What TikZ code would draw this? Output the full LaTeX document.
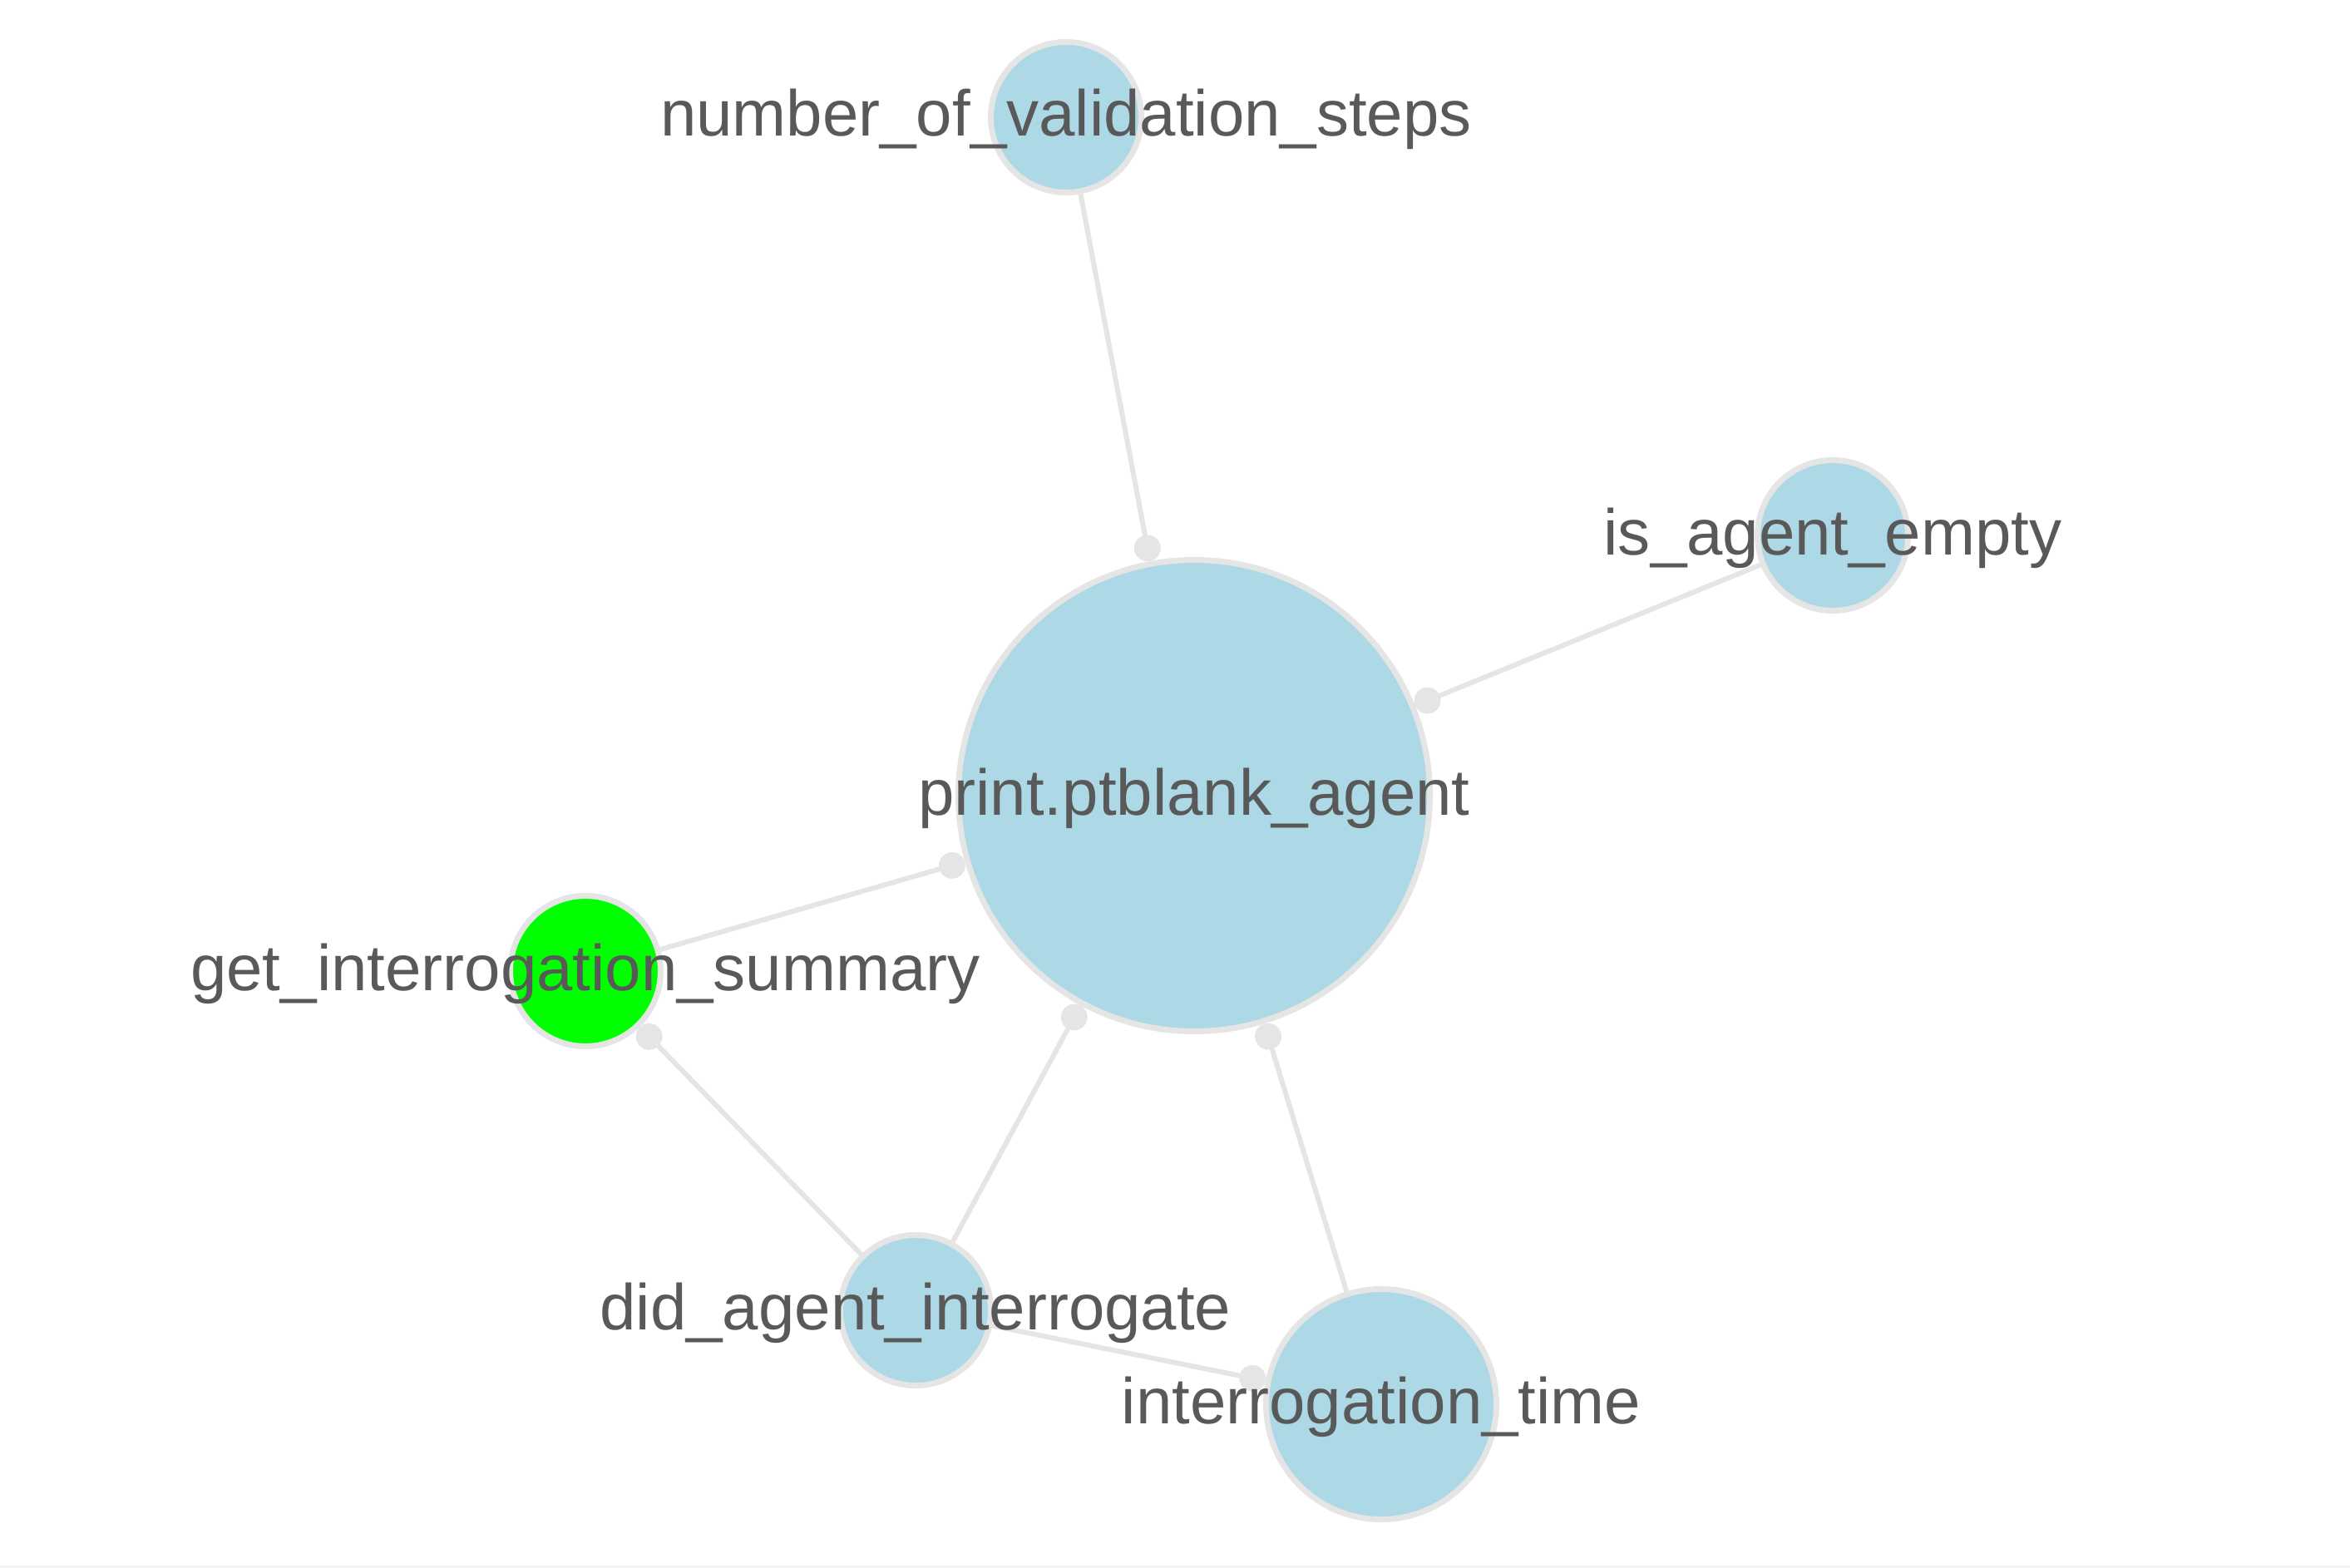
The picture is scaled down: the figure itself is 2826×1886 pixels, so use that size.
\documentclass[tikz,border=0pt]{standalone}
\usepackage{fontspec}
\setmainfont{Liberation Sans}
\usepackage{xcolor}
\usepackage{tikz}
\usetikzlibrary{
  arrows.meta,
  backgrounds
}
\definecolor{nodeblue}{HTML}{ADD8E6}
\definecolor{nodegreen}{HTML}{00FF00}
\definecolor{rimgray}{HTML}{E5E5E5}
\definecolor{textgray}{HTML}{595959}
\definecolor{stripgray}{HTML}{F4F4F4}

\begin{document}
\begin{tikzpicture}[x=1pt, y=-1pt,
    vert/.style={circle, draw=rimgray, fill=nodeblue, line width=7pt, inner sep=0pt, minimum size=181pt,
      label={[lbl]center:#1}},
    lbl/.style={text height=57pt, text depth=16pt, yshift=-2.5pt, text=textgray, font=\fontsize{78}{94}\selectfont},
    link/.style={draw=rimgray, line width=6pt, -{Circle[length=32pt]}}]
\useasboundingbox (0,0) rectangle (2826,1886);
\fill[stripgray] (0,1883) rectangle (2826,1886);

\node [vert={print.ptblank\_agent}, minimum size=567pt] (agent) at (1436,957) {};
\node [vert={number\_of\_validation\_steps}] (steps) at (1282,141) {};
\node [vert={is\_agent\_empty}] (empty) at (2204,644) {};
\node [vert={get\_interrogation\_summary}, fill=nodegreen] (summary) at (704,1168) {};
\node [vert={did\_agent\_interrogate}] (did) at (1101,1576) {};
\node [vert={interrogation\_time}, minimum size=277pt] (time) at (1661,1689) {};

\begin{pgfonlayer}{background}
\draw [link] (steps) -- (agent);
\draw [link] (empty) -- (agent);
\draw [link] (summary) -- (agent);
\draw [link] (did) -- (agent);
\draw [link] (time) -- (agent);
\draw [link] (did) -- (summary);
\draw [link] (did) -- (time);
\end{pgfonlayer}
\end{tikzpicture}
\end{document}
